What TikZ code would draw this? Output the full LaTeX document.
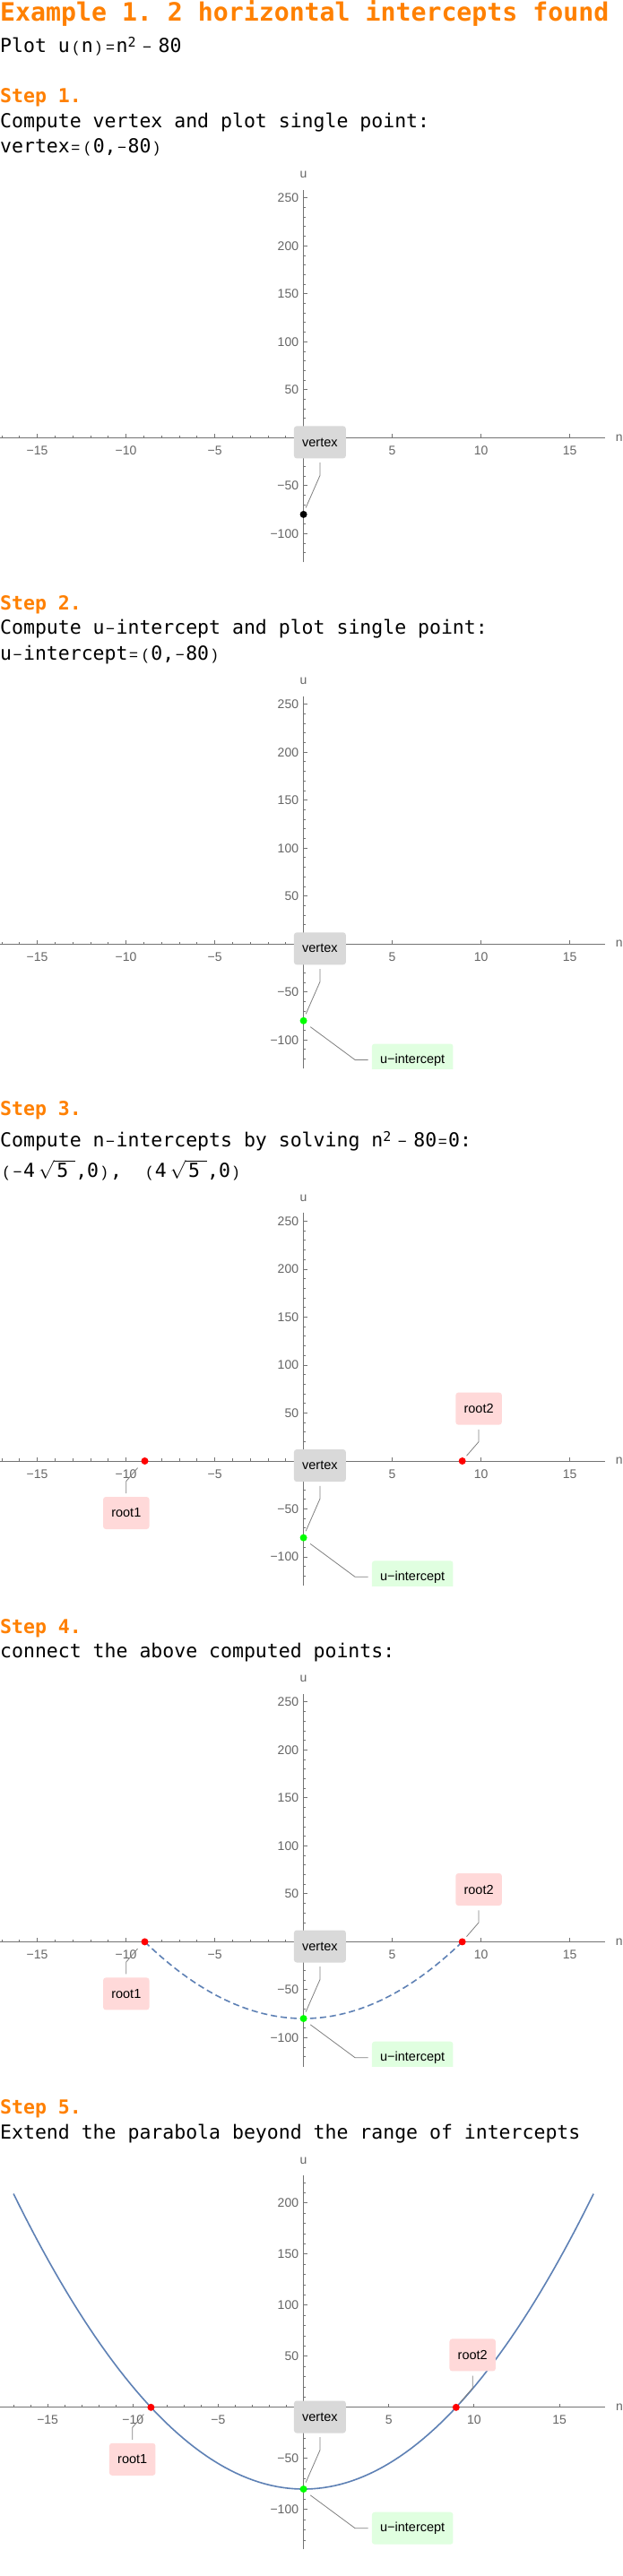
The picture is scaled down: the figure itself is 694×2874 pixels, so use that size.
\documentclass[tikz,border=0pt]{standalone}
\usepackage{fontspec}
\setmainfont{DejaVu Sans Mono}
\newfontfamily\sansfam{Liberation Sans}
\frenchspacing

\definecolor{mmaorange}{rgb}{1,0.5,0}
\definecolor{axisgray}{gray}{0.45}
\definecolor{tickgray}{gray}{0.4}
\definecolor{leadgray}{gray}{0.5}
\definecolor{vxgray}{gray}{0.85}
\definecolor{uigreen}{rgb}{0.88,1,0.88}
\definecolor{rootred}{rgb}{1,0.85,0.85}
\definecolor{curveblue}{rgb}{0.368,0.507,0.710}

\newlength\cw
\newcommand\titlefont{\fontsize{28.2pt}{34pt}\selectfont\bfseries}
\newcommand\bodyfont{\fontsize{21.5pt}{26pt}\selectfont}
\newcommand\smfont{\sansfam\fontsize{17pt}{20pt}\selectfont}
\newcommand\supfont{\fontsize{15pt}{18pt}\selectfont}
\newcommand\tickfont{\sansfam\fontsize{14pt}{16pt}\selectfont}
\newcommand\calfont{\sansfam\fontsize{14.5pt}{17pt}\selectfont}
\AtBeginDocument{\settowidth\cw{\bodyfont 0}}

% narrow signs sit in one cell of the mono grid
\newcommand\sm[1]{\makebox[\cw]{\smfont #1}}
\newcommand\sq[1]{\raisebox{6pt}{\supfont #1}}
\newcommand\rt[1]{\hspace{4pt}$\sqrt{\hbox{\hspace{3pt}#1\hspace{8pt}}}$}

% tick lists
\newcommand\nticks{-15/−15,-10/−10,-5/−5,5/5,10/10,15/15}
\newcommand\uticks{-100/−100,-50/−50,50/50,100/100,150/150,200/200,250/250}
\newcommand\uticksv{-100/−100,-50/−50,50/50,100/100,150/150,200/200}

% #1,#2 ends of n axis, #3,#4 ends of u axis, #5 minor u ticks, #6 major u ticks
\newcommand\plotaxes[6]{%
  \draw[axisline] (#1,0) -- (#2,0);
  \draw[axisline] (0,#3) -- (0,#4);
  \foreach \k in {-17,...,-1,1,...,17}
    \draw[axisline] (\k,0) -- ++(0,2.7pt);
  \foreach \k/\t in \nticks {
    \draw[axisline] (\k,0) -- ++(0,4.3pt);
    \node[ticklab] at ([yshift=-14.3pt]\k,0) {\t};
  }
  \foreach \k in {#5}
    \draw[axisline] (0,\k) -- ++(2.7pt,0);
  \foreach \k/\t in #6 {
    \draw[axisline] (0,\k) -- ++(4.3pt,0);
    \node[ticklab, anchor=east] at ([xshift=-5.3pt]0,\k) {\t};
  }
  \node[ticklab] (nlab) at ([xshift=15.5pt]#2,0) {n};
  \node[ticklab] (ulab) at ([yshift=17pt]0,#4) {u};
}

% callouts, #1 is the point
\newcommand\vxcall[1]{%
  \node[callbox, fill=vxgray] (vxl) at ([shift={(18.3pt,80.5pt)}]#1.center) {vertex};
  \draw[leader] ([shift={(2.6pt,7.5pt)}]#1.center) -- ([yshift=-19pt]vxl.south) -- ([yshift=-4.5pt]vxl.south);
}
\newcommand\uicall[1]{%
  \node[callbox, fill=uigreen] (uil) at ([shift={(121.6pt,-43.7pt)}]#1.center) {u−intercept};
  \draw[leader] ([shift={(7.6pt,-6.8pt)}]#1.center) -- ([xshift=-18.6pt]uil.west) -- ([xshift=-4.2pt]uil.west);
}
\newcommand\rootcalls[2]{%
  \node[callbox, fill=rootred] (r1l) at ([shift={(-20.7pt,-58pt)}]#1.center) {root1};
  \draw[leader] ([shift={(-8pt,-7.7pt)}]#1.center) -- ([yshift=17.3pt]r1l.north) -- ([yshift=3.8pt]r1l.north);
  \node[callbox, fill=rootred] (r2l) at ([shift={(18.4pt,58.4pt)}]#2.center) {root2};
  \draw[leader] ([shift={(4.8pt,5.8pt)}]#2.center) -- ([yshift=-18.7pt]r2l.south) -- ([yshift=-5.1pt]r2l.south);
}

\begin{document}
\begin{tikzpicture}[x=1pt, y=-1pt,
  titletext/.style={anchor=base west, inner sep=0pt, font=\titlefont, text=mmaorange},
  steptext/.style={anchor=base west, inner sep=0pt, font=\bodyfont\bfseries, text=mmaorange},
  bodytext/.style={anchor=base west, inner sep=0pt, font=\bodyfont},
  axisline/.style={draw=axisgray, line width=0.9pt},
  ticklab/.style={inner sep=0pt, font=\tickfont, text=tickgray},
  dot/.style={circle, inner sep=0pt, minimum size=8pt},
  callbox/.style={rounded corners=3pt, inner xsep=9.2pt, inner ysep=0pt, minimum height=36pt, font=\calfont},
  leader/.style={draw=leadgray, line width=0.8pt},
  curve/.style={draw=curveblue, line width=1.6pt}]
\useasboundingbox (0,0) rectangle (694,2874);
\fill[white] (0,0) rectangle (694,2874);

\node[titletext] (title) at (0,23.3) {Example 1. 2 horizontal intercepts found};
\node[bodytext] (fn) at (0,59) {Plot u\sm{(}n\sm{)}\sm{=}n\sq{2}\makebox[25pt]{\smfont −}80};

% step 1
\node[steptext] (st1) at (0,115) {Step 1.};
\node[bodytext] (st1a) at (0,142.7) {Compute vertex and plot single point:};
\node[bodytext] (st1b) at (0,170.7) {vertex\sm{=}\sm{(}0,\sm{−}80\sm{)}};
\begin{scope}[shift={(338.6,488.3)}, x=19.8pt, y=1.07pt]
  \clip (-338.6pt,-139.3pt) rectangle (355.4pt,300pt);
  \plotaxes{-17.1}{17}{-130}{258.5}{-120,-110,...,250}{\uticks}
  \node[dot, fill=black] (vx) at (0,-80) {};
  \vxcall{vx}
\end{scope}

% step 2
\node[steptext] (st2) at (0,680.7) {Step 2.};
\node[bodytext] (st2a) at (0,707.5) {Compute u\sm{−}intercept and plot single point:};
\node[bodytext] (st2b) at (0,736) {u\sm{−}intercept\sm{=}\sm{(}0,\sm{−}80\sm{)}};
\begin{scope}[shift={(338.6,1053.2)}, x=19.8pt, y=1.07pt]
  \clip (-338.6pt,-139.3pt) rectangle (355.4pt,300pt);
  \plotaxes{-17.1}{17}{-130}{258.5}{-120,-110,...,250}{\uticks}
  \node[dot, fill=green] (vx) at (0,-80) {};
  \vxcall{vx}
  \uicall{vx}
\end{scope}

% step 3
\node[steptext] (st3) at (0,1244.6) {Step 3.};
\node[bodytext] (st3a) at (0,1279) {Compute n\sm{−}intercepts by solving n\sq{2}\makebox[25pt]{\smfont −}80\sm{=}0:};
\node[bodytext] (st3b) at (0,1313.5) {\sm{(}\sm{−}4\rt{5},0\sm{)},\hspace{24pt}\sm{(}4\rt{5},0\sm{)}};
\begin{scope}[shift={(338.6,1630)}, x=19.8pt, y=1.07pt]
  \clip (-338.6pt,-139.3pt) rectangle (355.4pt,300pt);
  \plotaxes{-17.1}{17}{-130}{258.5}{-120,-110,...,250}{\uticks}
  \node[dot, fill=red] (r1) at (-8.944,0) {};
  \node[dot, fill=red] (r2) at (8.944,0) {};
  \node[dot, fill=green] (vx) at (0,-80) {};
  \vxcall{vx}
  \uicall{vx}
  \rootcalls{r1}{r2}
\end{scope}

% step 4
\node[steptext] (st4) at (0,1822.5) {Step 4.};
\node[bodytext] (st4a) at (0,1849) {connect the above computed points:};
\begin{scope}[shift={(338.6,2166.4)}, x=19.8pt, y=1.07pt]
  \clip (-338.6pt,-139.3pt) rectangle (355.4pt,300pt);
  \plotaxes{-17.1}{17}{-130}{258.5}{-120,-110,...,250}{\uticks}
  \draw[curve, dash pattern=on 7pt off 4pt] plot[domain=-8.944:8.944, samples=60] (\x,{(\x)^2-80});
  \node[dot, fill=red] (r1) at (-8.944,0) {};
  \node[dot, fill=red] (r2) at (8.944,0) {};
  \node[dot, fill=green] (vx) at (0,-80) {};
  \vxcall{vx}
  \uicall{vx}
  \rootcalls{r1}{r2}
\end{scope}

% step 5
\node[steptext] (st5) at (0,2358.6) {Step 5.};
\node[bodytext] (st5a) at (0,2386.7) {Extend the parabola beyond the range of intercepts};
\begin{scope}[shift={(338.6,2685.8)}, x=19.03pt, y=1.14pt]
  \plotaxes{-17.8}{17.7}{-138.4}{226.7}{-130,-120,...,220}{\uticksv}
  \draw[curve] plot[domain=-17:17, samples=100] (\x,{(\x)^2-80});
  \node[dot, fill=red] (r1) at (-8.944,0) {};
  \node[dot, fill=red] (r2) at (8.944,0) {};
  \node[dot, fill=green] (vx) at (0,-80) {};
  \vxcall{vx}
  \uicall{vx}
  \rootcalls{r1}{r2}
\end{scope}
\end{tikzpicture}
\end{document}
